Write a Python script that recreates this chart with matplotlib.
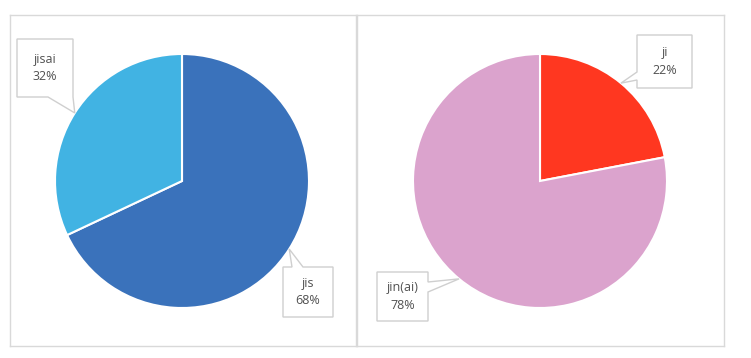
import matplotlib.pyplot as plt
import numpy as np
from matplotlib.patches import Polygon

# data
left_labels = ["jis", "jisai"]
left_values = [68, 32]
left_colors = ["#3A72BB", "#41B3E3"]

right_labels = ["ji", "jin(ai)"]
right_values = [22, 78]
right_colors = ["#FF3720", "#DBA3CD"]

R = 127.0  # pie radius in px
W, H = 751, 358

fig = plt.figure(figsize=(W / 100, H / 100), dpi=100)
plt.rcParams['font.family'] = ['Open Sans', 'DejaVu Sans']


def px(xp, cx):
    return (xp - cx) / R


def py(yp, cy):
    return (cy - yp) / R


def make_ax(x0, x1, y0, y1, cx, cy):
    ax = fig.add_axes([x0 / W, 1 - y1 / H, (x1 - x0) / W, (y1 - y0) / H])
    return ax


def finish_ax(ax, x0, x1, y0, y1, cx, cy):
    ax.set_xlim(px(x0, cx), px(x1, cx))
    ax.set_ylim(py(y1, cy), py(y0, cy))
    ax.set_aspect("equal")
    ax.set_xticks([])
    ax.set_yticks([])
    for s in ax.spines.values():
        s.set_visible(True)
        s.set_color("#d9d9d9")
        s.set_linewidth(1.0)


def callout(ax, text, box, side, base, tip):
    # box = (x0, x1, ytop, ybottom) in data coords
    x0, x1, yt, yb = box
    b0, b1 = base
    if side == "bottom":
        pts = [(x0, yt), (x1, yt), (x1, yb), (b1, yb), tip, (b0, yb), (x0, yb)]
    elif side == "top":
        pts = [(x0, yt), (b0, yt), tip, (b1, yt), (x1, yt), (x1, yb), (x0, yb)]
    elif side == "left":
        pts = [(x0, yt), (x1, yt), (x1, yb), (x0, yb), (x0, b1), tip, (x0, b0)]
    else:
        pts = [(x0, yt), (x1, yt), (x1, b0), tip, (x1, b1), (x1, yb), (x0, yb)]
    ax.add_patch(Polygon(pts, closed=True, facecolor="white",
                         edgecolor="#cfcfcf", linewidth=1.0, zorder=5))
    ax.text((x0 + x1) / 2, (yt + yb) / 2, text, ha="center", va="center",
            fontsize=9, color="#505050", linespacing=1.45, zorder=6)


def tip_of(values, i, r=1.0):
    tot = sum(values)
    start = 90 - 360 * sum(values[:i]) / tot
    mid = np.radians(start - 180 * values[i] / tot)
    return (r * np.cos(mid), r * np.sin(mid))


# left panel
ax1 = make_ax(10, 356, 15, 346, 182, 181)
ax1.pie(left_values, colors=left_colors, startangle=90, counterclock=False,
        radius=1.0, center=(0, 0), frame=True,
        wedgeprops=dict(edgecolor="white", linewidth=1.5))
finish_ax(ax1, 10, 356, 15, 346, 182, 181)

callout(ax1, f"{left_labels[1]}\n{left_values[1]}%",
        (px(17, 182), px(73, 182), py(39, 181), py(97, 181)), "bottom",
        (px(48, 182), px(73, 182)), tip_of(left_values, 1))
callout(ax1, f"{left_labels[0]}\n{left_values[0]}%",
        (px(283, 182), px(333, 182), py(267, 181), py(317, 181)), "top",
        (px(292, 182), px(303, 182)), tip_of(left_values, 0))

# right panel
ax2 = make_ax(357, 724, 15, 346, 540, 181)
ax2.pie(right_values, colors=right_colors, startangle=90, counterclock=False,
        radius=1.0, center=(0, 0), frame=True,
        wedgeprops=dict(edgecolor="white", linewidth=1.5))
finish_ax(ax2, 357, 724, 15, 346, 540, 181)

callout(ax2, f"{right_labels[0]}\n{right_values[0]}%",
        (px(637, 540), px(692, 540), py(35, 181), py(88, 181)), "left",
        (py(72, 181), py(80, 181)), tip_of(right_values, 0))
callout(ax2, f"{right_labels[1]}\n{right_values[1]}%",
        (px(377, 540), px(428, 540), py(272, 181), py(321, 181)), "right",
        (py(282, 181), py(292, 181)), tip_of(right_values, 1))

fig.savefig("out.png", dpi=100)
